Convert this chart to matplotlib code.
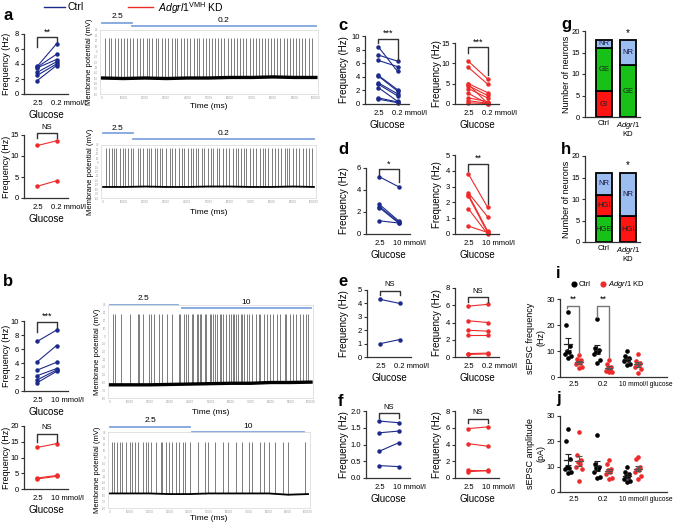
import numpy as np
import matplotlib
matplotlib.use("Agg")
import matplotlib.pyplot as plt
import matplotlib.transforms as mtransforms
from matplotlib.lines import Line2D

plt.rcParams["font.family"] = ["Liberation Sans", "DejaVu Sans"]
plt.rcParams["mathtext.fontset"] = "custom"
plt.rcParams["mathtext.rm"] = "Liberation Sans"
plt.rcParams["mathtext.it"] = "Liberation Sans:italic"

W, H = 677, 523
CTRL = "#1c2a8c"
KD = "#ee2b2b"
AXC = "#333333"
BAR_BLUE = "#7fa6dc"

# ---- a / b: paired firing frequency (Hz) ----
a_ctrl_25 = [3.7, 3.6, 3.5, 2.9, 2.5, 1.8]
a_ctrl_02 = [6.7, 5.3, 4.6, 4.3, 4.0, 3.8]
a_kd_25 = [12.5, 2.8]
a_kd_02 = [13.6, 4.1]
b_ctrl_25 = [7.1, 4.2, 3.0, 2.2, 1.6, 1.2]
b_ctrl_10 = [8.7, 6.5, 4.1, 3.2, 3.0, 2.8]
b_kd_25 = [13.2, 3.5, 3.2]
b_kd_10 = [14.4, 4.3, 4.0]

# ---- c-f ----
c_ctrl_25 = [8.4, 7.2, 6.4, 4.2, 4.1, 3.1, 2.9, 2.4, 0.9, 0.7]
c_ctrl_02 = [4.8, 6.3, 5.5, 2.1, 1.9, 1.5, 1.2, 0.4, 0.3, 0.2]
c_kd_25 = [10.5, 9.0, 5.0, 4.8, 4.5, 3.8, 2.6, 1.5, 0.8, 0.3]
c_kd_02 = [6.2, 4.9, 2.8, 0.2, 2.1, 1.5, 0.1, 0.6, 0.2, 0.1]
d_ctrl_25 = [5.2, 2.7, 2.5, 2.4, 1.2]
d_ctrl_10 = [4.3, 1.2, 1.1, 1.0, 1.0]
d_kd_25 = [3.8, 2.6, 2.5, 2.4, 1.6, 0.5]
d_kd_10 = [1.7, 1.1, 0.2, 0.1, 0.0, 0.1]
e_ctrl_25 = [4.3, 1.0]
e_ctrl_02 = [4.0, 1.3]
e_kd_25 = [5.9, 4.2, 3.1, 2.5, 0.4, 0.3]
e_kd_02 = [6.1, 4.0, 3.0, 2.5, 0.45, 0.35]
f_ctrl_25 = [1.7, 1.35, 0.8, 0.37]
f_ctrl_10 = [1.65, 1.4, 1.05, 0.34]
f_kd_25 = [5.9, 4.1, 0.9, 0.75]
f_kd_10 = [6.1, 3.8, 0.85, 0.9]

# ---- g / h: neuron classification counts ----
g_types = ["GI", "GE", "NR"]
g_ctrl = [6, 10, 2]
g_kd = [0, 12, 6]
h_types = ["HGE", "HGI", "NR"]
h_ctrl = [6, 5, 5]
h_kd = [0, 6, 10]
type_colors = {"GI": "#ff1414", "GE": "#17c117", "NR": "#9bbdf0",
               "HGE": "#17c117", "HGI": "#ff1414"}

# ---- i / j: sEPSC ----
i_groups = ["2.5", "0.2", "10"]
i_ctrl = [[25, 20, 12, 10, 9.5, 9, 8, 7.5],
          [22.5, 11, 10.5, 10, 9.5, 9, 6.5, 5.5],
          [10, 8, 7.5, 7, 6.5, 6, 5, 4.5]]
i_kd = [[8.5, 7, 6.5, 6, 5.5, 5, 4, 3.5],
        [6.5, 5, 4, 3.5, 3, 2.5, 2, 1.8],
        [9, 6, 5.5, 5, 4.5, 4, 3, 1.5]]
j_ctrl = [[25, 20, 13, 10, 9.5, 9, 8, 7.5],
          [22.5, 11, 10, 9.5, 9, 8, 6, 5.5],
          [10, 8, 7, 6.5, 6, 5, 4.5, 4]]
j_kd = [[23.5, 14.5, 12.5, 12, 11, 10, 9, 4.5],
        [12.5, 11, 9, 8.5, 8, 7, 5.5, 5],
        [14, 13, 10, 9, 8.5, 8, 6.5, 5]]

# ---- traces: spike times (% of recording) and baseline (mV) ----
base_t = [0, 10, 20, 30, 40, 50, 60, 70, 80, 90, 100]
tr_a1_spikes = [1.5, 3, 4.2, 6, 7.5, 9, 10.2, 11.8, 13, 14.5, 16.2, 17.5, 19, 20.8, 22,
                23.5, 25, 26.3, 28, 29.5, 30.8, 32.5, 34, 35.2, 36.8, 38.5, 39.7, 41,
                42.8, 44.2, 45.5, 47, 48.6, 50, 51.3, 53, 54.4, 55.8, 57.2, 58.9, 60.1,
                61.7, 63, 64.6, 66, 67.3, 69, 70.4, 71.8, 73.2, 74.9, 76.1, 77.8, 79,
                80.6, 82, 83.3, 85, 86.4, 87.8, 89.2, 90.9, 92.1, 93.7, 95, 96.6, 98]
tr_a1_base = [-50, -51, -50, -51, -50, -50, -49, -49, -48, -49, -49]
tr_a2_spikes = [1.5, 2.6, 4.2, 5.3, 6.2, 8.0, 9.3, 10.4, 12.0, 13.0, 14.2, 16.5, 17.6,
                18.9, 20.7, 21.6, 22.7, 24.7, 25.8, 26.9, 28.1, 29.7, 31.5, 32.8, 34.0,
                35.9, 37.4, 38.6, 40.2, 41.7, 42.8, 43.9, 45.1, 46.7, 47.9, 49.8, 51.0,
                52.1, 54.1, 55.2, 56.7, 58.3, 59.8, 61.4, 62.9, 64.0, 65.5, 66.8, 68.0,
                69.6, 71.1, 72.6, 74.2, 75.7, 76.8, 78.4, 79.9, 81.5, 83.0, 84.5, 86.1,
                87.2, 88.4, 90.3, 91.5, 93.0, 94.6, 96.1, 97.6, 99.2]
tr_a2_base = [-55, -55, -54, -55, -55, -54, -54, -55, -55, -54, -55]
tr_b1_spikes = [1.6, 2.4, 5.4, 9.8, 13.8, 14.6, 16.3, 19.5, 20.3, 22.0, 24.4, 26.0, 28.5,
                30.9, 34.1, 35.0, 36.6, 37.9, 39.0, 40.7, 41.5, 43.1, 43.9, 44.7, 45.5,
                47.2, 48.0, 49.6, 50.4, 51.2, 52.0, 53.2, 54.5, 55.3, 56.4, 57.7, 59.0,
                60.2, 61.0, 61.8, 62.9, 63.9, 65.0, 65.9, 66.7, 68.3, 69.1, 70.7, 72.4,
                74.0, 74.8, 76.4, 78.0, 79.7, 81.3, 82.9, 84.6, 87.0, 87.8, 89.4, 91.1,
                92.7, 94.3, 95.9, 97.6, 98.7]
tr_b1_base = [-63, -63, -63, -62.5, -62, -61.5, -61, -61, -60, -60, -59.5]
tr_b2_spikes = [1.2, 2.1, 3.3, 5.0, 6.1, 8.3, 9.9, 11.1, 12.4, 14.0, 16.5, 18.2, 19.0,
                20.7, 23.1, 25.6, 26.4, 28.1, 29.8, 31.4, 33.1, 34.7, 36.9, 38.0, 40.5,
                44.6, 47.9, 49.6, 52.9, 57.0, 59.5, 63.6, 66.9, 70.2, 71.9, 76.0, 77.7,
                80.2, 83.5, 87.6, 90.1, 98.3]
tr_b2_base = [-57, -57, -57, -58, -58, -57, -57, -57, -57, -59, -58]

fig = plt.figure(figsize=(W / 100, H / 100), dpi=100)


def add_ax(l, t, r, b):
    return fig.add_axes([l / W, 1 - b / H, (r - l) / W, (b - t) / H])


def fy(ypx):
    return 1 - ypx / H


def fx(xpx):
    return xpx / W


def place_ylabel(ax, xpx):
    # xpx: right edge of the rotated label, in figure pixels
    tr = mtransforms.blended_transform_factory(fig.transFigure, ax.transAxes)
    ax.yaxis.set_label_coords(fx(xpx), 0.5, transform=tr)


def style_axes(ax):
    for s in ["top", "right"]:
        ax.spines[s].set_visible(False)
    for s in ["left", "bottom"]:
        ax.spines[s].set_color(AXC)
        ax.spines[s].set_linewidth(0.9)
    ax.tick_params(axis="y", length=2.5, width=0.8, color=AXC, labelsize=5.5, pad=1.2)
    ax.tick_params(axis="x", length=0, labelsize=5.5, pad=4)


def pair_panel(left, top, bottom, low, high, color, yticks, unit, sig, br, lab_x, lab_fs=7):
    ax = add_ax(left, top, left + 44, bottom)
    for a, b in zip(low, high):
        ax.plot([0, 1], [a, b], color=color, lw=0.8, marker="o", ms=2.2, clip_on=False)
    ax.set_xlim(-0.7, 1.6)
    ax.set_ylim(yticks[0], yticks[-1])
    ax.set_yticks(yticks)
    ax.set_xticks([0, 1])
    ax.set_xticklabels(["2.5", ""])
    style_axes(ax)
    ax.annotate(unit, xy=(1, 0), xycoords=("data", "axes fraction"),
                xytext=(-3.7, -4), textcoords="offset points",
                ha="left", va="top", fontsize=5.5)
    ax.set_xlabel("Glucose", fontsize=7, labelpad=2.5)
    ax.set_ylabel("Frequency (Hz)", fontsize=lab_fs)
    place_ylabel(ax, lab_x + lab_fs * 0.6)
    top_y, lb, rb, ty = br
    ax.plot([0, 0, 1, 1], [lb, top_y, top_y, rb], color=AXC, lw=1.0, clip_on=False)
    ax.text(0.5, ty, sig, ha="center", va="center", fontsize=6.5 if "*" in sig else 5.5)
    return ax


def trace_panel(box, spikes, base, peak, bars, base_lw, tlabel_y):
    l, t, r, b = box
    ax = add_ax(l, t, r, b)
    sp_base = np.interp(spikes, base_t, base)
    ax.vlines(spikes, sp_base, peak, color="0.45", lw=0.65)
    ax.plot(base_t, base, color="k", lw=base_lw)
    ax.set_xlim(-1, 101)
    ax.set_ylim(-80, 40)
    for s in ax.spines.values():
        s.set_color("#dddddd")
        s.set_linewidth(0.6)
    ax.set_xticks(range(0, 101, 10))
    ax.set_xticklabels([str(v * 1000) for v in range(0, 101, 10)])
    ax.set_yticks(range(-80, 41, 10))
    ax.set_yticklabels([str(v) for v in range(-80, 41, 10)])
    ax.tick_params(length=0, labelsize=2, labelcolor="0.6", pad=1.5)
    ax.set_ylabel("Membrane potential (mV)", fontsize=5.5)
    place_ylabel(ax, l - 7)
    fig.text(fx((l + r) / 2), fy(tlabel_y), "Time (ms)", ha="center", va="center", fontsize=6)
    tr = mtransforms.blended_transform_factory(ax.transData, fig.transFigure)
    for x0, x1, lab, ybar, ylab in bars:
        ax.add_line(Line2D([x0, x1], [fy(ybar), fy(ybar)], transform=tr,
                           color=BAR_BLUE, lw=1.3, clip_on=False))
        ax.text((x0 + x1) / 2, fy(ylab), lab, transform=tr, ha="center", va="center",
                fontsize=6)
    return ax


# ---- top legend ----
fig.add_artist(Line2D([fx(44), fx(65)], [fy(7), fy(7)], color=CTRL, lw=1.0))
fig.text(fx(68), fy(7), "Ctrl", fontsize=7.5, va="center")
fig.add_artist(Line2D([fx(128), fx(153)], [fy(7), fy(7)], color=KD, lw=1.0))
fig.text(fx(158), fy(8), r"$\mathit{Adgrl1}^{\mathrm{VMH}}$ KD", fontsize=7.5, va="center")

# ---- panel letters ----
for lab, x, y in [("a", 3, 16), ("b", 3, 282), ("c", 338, 25), ("d", 338, 149),
                  ("e", 338, 282), ("f", 338, 402), ("g", 561, 25), ("h", 561, 150),
                  ("i", 556, 273), ("j", 556, 398)]:
    fig.text(fx(x), fy(y), lab, fontsize=12, fontweight="bold", va="center")

# ---- a ----
pair_panel(24, 34, 94, a_ctrl_25, a_ctrl_02, CTRL, [0, 2, 4, 6, 8], "0.2 mmol/l", "**",
           (7.6, 6.3, 6.9, 8.3), 7, 6.5)
pair_panel(24, 135, 198, a_kd_25, a_kd_02, KD, [0, 5, 10, 15], "0.2 mmol/l", "NS",
           (15.5, 14.3, 14.3, 16.7), 7, 6.5)
trace_panel((100, 30, 318, 94), tr_a1_spikes, tr_a1_base, 25,
            [(0, 14, "2.5", 23, 17), (14, 100, "0.2", 26, 21)], 2.4, 107)
trace_panel((101, 145, 316, 198), tr_a2_spikes, tr_a2_base, 33,
            [(0, 14, "2.5", 133, 128), (14, 100, "0.2", 139, 134)], 1.3, 212)

# ---- b ----
pair_panel(24, 321, 391, b_ctrl_25, b_ctrl_10, CTRL, [0, 2, 4, 6, 8, 10], "10 mmol/l", "***",
           (9.9, 8.4, 9.0, 10.7), 7, 6.5)
pair_panel(24, 426, 489, b_kd_25, b_kd_10, KD, [0, 5, 10, 15, 20], "10 mmol/l", "NS",
           (17.5, 14.9, 14.9, 19.4), 7, 6.5)
trace_panel((108, 305, 313, 398), tr_b1_spikes, tr_b1_base, 28,
            [(0, 33.7, "2.5", 305, 299), (35.6, 100, "10", 308, 302)], 2.4, 412)
trace_panel((108, 432, 310, 508), tr_b2_spikes, tr_b2_base, 25,
            [(0, 40.5, "2.5", 427, 421), (41.5, 98, "10", 432, 426)], 1.3, 519)

# ---- c-f ----
pair_panel(365, 36, 104, c_ctrl_25, c_ctrl_02, CTRL, [0, 2, 4, 6, 8, 10], "0.2 mmol/l", "***",
           (9.6, 8.9, 6.5, 10.4), 345)
pair_panel(455, 43, 104, c_kd_25, c_kd_02, KD, [0, 5, 10, 15], "0.2 mmol/l", "***",
           (14.0, 12.5, 7.1, 15.2), 438)
pair_panel(366, 168, 234, d_ctrl_25, d_ctrl_10, CTRL, [0, 2, 4, 6], "10 mmol/l", "*",
           (5.9, 5.4, 4.7, 6.3), 345)
pair_panel(455, 155, 234, d_kd_25, d_kd_10, KD, [0, 1, 2, 3, 4, 5], "10 mmol/l", "**",
           (4.4, 4.0, 1.9, 4.8), 438)
pair_panel(367, 290, 357, e_ctrl_25, e_ctrl_02, CTRL, [0, 1, 2, 3, 4, 5], "0.2 mmol/l", "NS",
           (4.9, 4.6, 4.6, 5.4), 345)
pair_panel(455, 288, 357, e_kd_25, e_kd_02, KD, [0, 2, 4, 6, 8], "0.2 mmol/l", "NS",
           (7.0, 6.4, 6.4, 7.6), 438)
axf = pair_panel(366, 411, 478, f_ctrl_25, f_ctrl_10, CTRL, [0, 0.5, 1.0, 1.5, 2.0],
                 "10 mmol/l", "NS", (1.94, 1.79, 1.79, 2.1), 345)
axf.set_yticklabels(["0.0", "0.5", "1.0", "1.5", "2.0"])
pair_panel(455, 411, 478, f_kd_25, f_kd_10, KD, [0, 2, 4, 6, 8], "10 mmol/l", "NS",
           (7.05, 6.6, 6.6, 7.8), 438)


# ---- g / h ----
def stack_panel(top, bottom, types, ctrl, kd, star_y):
    ax = add_ax(585, top, 640, bottom)
    for x, counts in [(0, ctrl), (1, kd)]:
        bottom_v = 0
        for typ, n in zip(types, counts):
            if n == 0:
                continue
            ax.bar(x, n, bottom=bottom_v, width=0.64, color=type_colors[typ],
                   edgecolor="black", lw=1.3)
            ax.text(x, bottom_v + n / 2, typ, ha="center", va="center", fontsize=5.5,
                    color="#1a1a40" if typ == "NR" else "#202020")
            bottom_v += n
    ax.set_xlim(-0.79, 1.5)
    ax.set_ylim(0, 20)
    ax.set_yticks([0, 5, 10, 15, 20])
    style_axes(ax)
    ax.tick_params(axis="x", pad=2)
    ax.set_xticks([0, 1])
    ax.set_xticklabels(["Ctrl", "$\\mathit{Adgrl1}$\nKD"], fontsize=5.5, va="top",
                       linespacing=1.0)
    ax.set_ylabel("Number of neurons", fontsize=6.5)
    place_ylabel(ax, 571)
    ax.text(1, star_y, "*", ha="center", va="center", fontsize=7)


stack_panel(31, 117, g_types, g_ctrl, g_kd, 19.6)
stack_panel(156, 242, h_types, h_ctrl, h_kd, 17.8)


# ---- i / j ----
jit = [0.0, -0.07, 0.07, -0.035, 0.035, -0.1, 0.1, 0.0]


def dot_panel(top, bottom, ctrl, kd, ylabel, brackets):
    ax = add_ax(560, top, 667, bottom)
    for g in range(len(i_groups)):
        for vals, off, col, mcol in [(ctrl[g], -0.19, "black", "#222222"),
                                     (kd[g], 0.19, KD, "#555555")]:
            v = np.sort(vals)[::-1]
            xs = g + off + np.array(jit[:len(v)])
            ax.scatter(xs, v, s=11, color=col, zorder=2, lw=0, clip_on=False)
            m = np.mean(v)
            sem = np.std(v, ddof=1) / np.sqrt(len(v))
            ax.plot([g + off - 0.13, g + off + 0.13], [m, m], color=mcol, lw=0.9, zorder=3)
            ax.errorbar(g + off, m, yerr=sem, color=mcol, lw=0.8, capsize=2,
                        capthick=0.8, zorder=3)
    ax.set_xlim(-0.46, 3.17)
    ax.set_ylim(0, 30)
    ax.set_yticks([0, 10, 20, 30])
    style_axes(ax)
    ax.tick_params(axis="x", pad=3)
    ax.set_xticks([0, 1, 2])
    ax.set_xticklabels(["2.5", "0.2", ""])
    ax.annotate("10 mmol/l glucose", xy=(2, 0), xycoords=("data", "axes fraction"),
                xytext=(-10, -3), textcoords="offset points", ha="left", va="top",
                fontsize=4.8)
    ax.set_ylabel(ylabel, fontsize=6.5, linespacing=1.1)
    place_ylabel(ax, 545)
    for g, lb, top_y, rb in brackets:
        ax.plot([g - 0.21, g - 0.21, g + 0.2, g + 0.2], [lb, top_y, top_y, rb],
                color="#777777", lw=1.0)
        ax.text(g, top_y + 1.0, "**", ha="center", va="bottom", fontsize=6.5)
    return ax


dot_panel(299, 377, i_ctrl, i_kd, "sEPSC frequency\n(Hz)",
          [(0, 26.5, 27.3, 8.8), (1, 23.1, 27.3, 7.3)])
dot_panel(416, 492, j_ctrl, j_kd, "sEPSC amplitude\n(pA)", [])

# legend for i
fig.add_artist(Line2D([fx(574)], [fy(284)], marker="o", ms=3.4, color="black", lw=0))
fig.text(fx(579), fy(284), "Ctrl", fontsize=5.5, va="center")
fig.add_artist(Line2D([fx(603)], [fy(284)], marker="o", ms=3.4, color=KD, lw=0))
fig.text(fx(608), fy(284), r"$\mathit{Adgrl1}$ KD", fontsize=5.5, va="center")

fig.savefig("out.png", dpi=100)
